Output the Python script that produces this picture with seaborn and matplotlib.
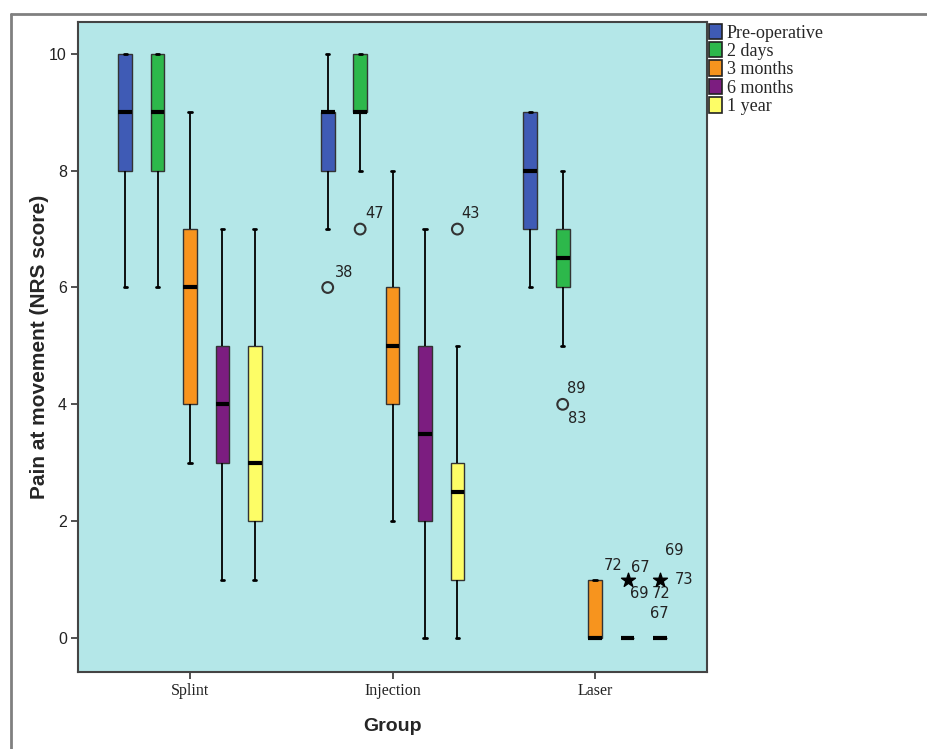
import numpy as np
import pandas as pd
import matplotlib
matplotlib.use("Agg")
import matplotlib.pyplot as plt
import matplotlib.patches as mpatches
from matplotlib.lines import Line2D
import seaborn as sns

# --- data: (min, q1, median, q3, max) per box ---
groups = ["Splint", "Injection", "Laser"]
times = ["Pre-operative", "2 days", "3 months", "6 months", "1 year"]
colors = ["#3f5bb5", "#2db84b", "#f7941e", "#7c1d80", "#fdfd66"]

splint_stats = [
    [6, 8, 9, 10, 10],
    [6, 8, 9, 10, 10],
    [3, 4, 6, 7, 9],
    [1, 3, 4, 5, 7],
    [1, 2, 3, 5, 7],
]
injection_stats = [
    [7, 8, 9, 9, 10],
    [8, 9, 9, 10, 10],
    [2, 4, 5, 6, 8],
    [0, 2, 3.5, 5, 7],
    [0, 1, 2.5, 3, 5],
]
laser_stats = [
    [6, 7, 8, 9, 9],
    [5, 6, 6.5, 7, 8],
    [0, 0, 0, 1, 1],
    [0, 0, 0, 0, 0],
    [0, 0, 0, 0, 0],
]

# outliers (group, time, value) and extremes
outlier_group = ["Injection", "Injection", "Injection", "Laser"]
outlier_time = ["Pre-operative", "2 days", "1 year", "2 days"]
outlier_value = [6, 7, 7, 4]
extreme_group = ["Laser", "Laser"]
extreme_time = ["6 months", "1 year"]
extreme_value = [1, 1]

# case labels next to outliers / extremes
case_labels = [
    ("Injection", "Pre-operative", 6, "38", (16, 15)),
    ("Injection", "2 days", 7, "47", (14, 16)),
    ("Injection", "1 year", 7, "43", (13, 16)),
    ("Laser", "2 days", 4, "89", (14, 16)),
    ("Laser", "2 days", 4, "83", (14, -14)),
    ("Laser", "6 months", 1, "72", (-14, 14)),
    ("Laser", "6 months", 1, "67", (13, 12)),
    ("Laser", "6 months", 1, "69", (12, -14)),
    ("Laser", "1 year", 1, "69", (14, 29)),
    ("Laser", "1 year", 1, "73", (24, 0)),
    ("Laser", "1 year", 1, "72", (1, -14)),
    ("Laser", "1 year", 1, "67", (-1, -34)),
]

# long table: five-number summaries give the box exactly with whis=inf
rows = []
for g, stats in zip(groups, [splint_stats, injection_stats, laser_stats]):
    for t, s in zip(times, stats):
        for v in s:
            rows.append({"Group": g, "Time": t, "Score": v})
df = pd.DataFrame(rows)

sns.set_theme(style="white")
plt.rcParams["font.family"] = ["Liberation Sans", "DejaVu Sans"]

fig = plt.figure(figsize=(9.28, 7.49), dpi=100)
ax = fig.add_axes([0.084, 0.103, 0.678, 0.868])
ax.set_facecolor("#b4e7e8")

sns.boxplot(
    data=df, x="Group", y="Score", hue="Time",
    order=groups, hue_order=times, palette=colors, saturation=1,
    whis=np.inf, width=0.8, gap=0.58, linecolor="#333333", linewidth=1.0,
    medianprops=dict(color="black", linewidth=3),
    whiskerprops=dict(color="black", linewidth=1.3),
    capprops=dict(color="black", linewidth=2),
    legend=False, ax=ax,
)

# shrink caps to the small SPSS style
for line in ax.lines:
    xd = np.asarray(line.get_xdata(), dtype=float)
    yd = np.asarray(line.get_ydata(), dtype=float)
    if len(xd) == 2 and yd[0] == yd[1] and line.get_linewidth() == 2:
        c = xd.mean()
        line.set_xdata([c - 0.008, c + 0.008])

def xpos(g, t):
    return groups.index(g) + (times.index(t) - 2) * 0.16

ax.scatter([xpos(g, t) for g, t in zip(outlier_group, outlier_time)], outlier_value,
           s=60, facecolors="none", edgecolors="#333333", linewidths=1.5, zorder=5)
ax.scatter([xpos(g, t) for g, t in zip(extreme_group, extreme_time)], extreme_value,
           s=110, marker="*", color="black", zorder=5)
for g, t, v, lab, off in case_labels:
    ax.annotate(lab, (xpos(g, t), v), xytext=off, textcoords="offset pixels",
                ha="center", va="center", fontsize=10.5, color="#222222",
                family=["DejaVu Sans"])

ax.set_xlim(-0.553, 2.553)
ax.set_ylim(-0.58, 10.55)
ax.set_yticks([0, 2, 4, 6, 8, 10])
ax.set_yticklabels(["0", "2", "4", "6", "8", "10"], fontsize=11.5, color="#222222")
ax.set_xticks([0, 1, 2])
ax.set_xticklabels(groups, fontsize=11.5, color="#222222", family=["Liberation Serif"])
ax.tick_params(axis="both", direction="out", length=5, width=1.2, color="#333333",
               bottom=True, left=True, pad=3)
for sp in ax.spines.values():
    sp.set_color("#444444")
    sp.set_linewidth(1.5)

ax.set_xlabel("Group", fontsize=14, fontweight="bold", labelpad=14)
ax.set_ylabel("Pain at movement (NRS score)", fontsize=15, fontweight="bold", labelpad=0)

handles = [mpatches.Patch(facecolor=c, edgecolor="#222222", linewidth=1.2) for c in colors]
ax.legend(handles, times, loc="upper left", bbox_to_anchor=(1.0, 1.0),
          frameon=False, borderaxespad=0, borderpad=0.1, handlelength=0.7,
          handleheight=0.95, handletextpad=0.3, labelspacing=0.02,
          prop={"family": "Liberation Serif", "size": 13})

# outer frame of the exported chart
fig.add_artist(Line2D([11 / 928, 11 / 928], [0, 1 - 14 / 749], transform=fig.transFigure,
                      color="#808080", linewidth=2))
fig.add_artist(Line2D([11 / 928, 1], [1 - 14 / 749, 1 - 14 / 749], transform=fig.transFigure,
                      color="#808080", linewidth=2))

fig.savefig("out.png", dpi=100)
